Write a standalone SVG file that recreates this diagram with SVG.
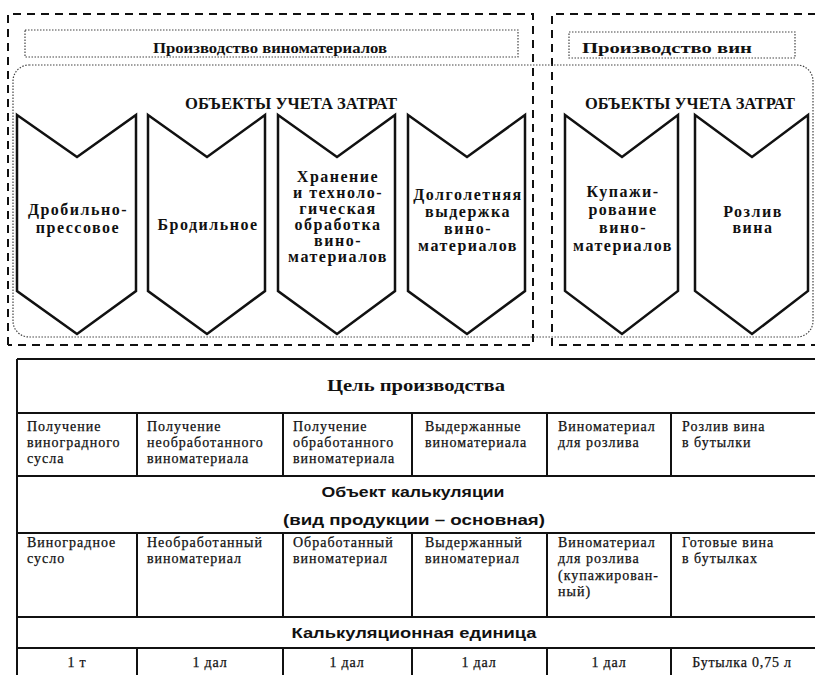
<svg xmlns="http://www.w3.org/2000/svg" width="815" height="675" viewBox="0 0 815 675">
<style>
.dash{fill:none;stroke:#111;stroke-width:2;stroke-dasharray:8,6}
.dot{fill:none;stroke:#444;stroke-width:1.2;stroke-dasharray:1.5,1.5}
.chev{fill:#fff;stroke:#111;stroke-width:2.5;stroke-linejoin:miter}
.ct{font-family:"Liberation Serif",serif;font-weight:bold;font-size:16px;text-anchor:middle;letter-spacing:1.5px;fill:#111}
.hd{font-family:"Liberation Serif",serif;font-weight:bold;font-size:15px;text-anchor:middle;fill:#111}
.obj{font-family:"Liberation Serif",serif;font-weight:bold;font-size:16px;text-anchor:middle;fill:#111}
.tl{stroke:#111;stroke-width:2;fill:none}
.cell{font-family:"Liberation Serif",serif;font-size:14px;letter-spacing:1px;fill:#111;stroke:#111;stroke-width:0.25}
.th{font-family:"Liberation Serif",serif;font-weight:bold;font-size:16px;text-anchor:middle;fill:#111}
.ths{font-family:"Liberation Sans",sans-serif;font-weight:bold;font-size:15px;text-anchor:middle;fill:#111}
.unit{font-family:"Liberation Serif",serif;font-size:14px;text-anchor:middle;letter-spacing:0.8px;fill:#111;stroke:#111;stroke-width:0.25}
</style>
<rect width="815" height="675" fill="#fff"/>

<g id="frames">
<path class="dash" d="M8,345 V14 H533 V345 H8"/>
<path class="dash" d="M830,14 H552 V345 H830"/>
<rect class="dot" x="13" y="65" width="800" height="272" rx="16"/>
</g>

<g id="hdr-left">
<rect class="dot" x="25" y="30" width="493" height="27"/>
<text class="hd" x="270" y="53" textLength="234" lengthAdjust="spacingAndGlyphs">Производство виноматериалов</text>
</g>
<g id="hdr-right">
<rect class="dot" x="569" y="32" width="226" height="26"/>
<text class="hd" x="667" y="53" textLength="170" lengthAdjust="spacingAndGlyphs">Производство вин</text>
</g>

<g id="objects-left"><text class="obj" x="291" y="109" textLength="212" lengthAdjust="spacingAndGlyphs">ОБЪЕКТЫ УЧЕТА ЗАТРАТ</text></g>
<g id="objects-right"><text class="obj" x="690" y="109" textLength="210" lengthAdjust="spacingAndGlyphs">ОБЪЕКТЫ УЧЕТА ЗАТРАТ</text></g>

<g id="ch1">
<path class="chev" d="M17,115 L77,157 L136,115 L136,291 L77,334 L17,291 Z"/>
<text class="ct" x="78" y="215">Дробильно-</text>
<text class="ct" x="78" y="233">прессовое</text>
</g>
<g id="ch2">
<path class="chev" d="M148,115 L207,157 L265,115 L265,291 L207,334 L148,291 Z"/>
<text class="ct" x="208" y="230">Бродильное</text>
</g>
<g id="ch3">
<path class="chev" d="M278,115 L337,157 L395,115 L395,291 L337,334 L278,291 Z"/>
<text class="ct" x="338" y="182">Хранение</text>
<text class="ct" x="338" y="198">и техноло-</text>
<text class="ct" x="338" y="214">гическая</text>
<text class="ct" x="338" y="230">обработка</text>
<text class="ct" x="338" y="246">вино-</text>
<text class="ct" x="338" y="262">материалов</text>
</g>
<g id="ch4">
<path class="chev" d="M408,115 L467,157 L525,115 L525,291 L467,334 L408,291 Z"/>
<text class="ct" x="468" y="200">Долголетняя</text>
<text class="ct" x="468" y="217">выдержка</text>
<text class="ct" x="468" y="234">вино-</text>
<text class="ct" x="468" y="251">материалов</text>
</g>
<g id="ch5">
<path class="chev" d="M565,115 L622,157 L678,115 L678,291 L622,334 L565,291 Z"/>
<text class="ct" x="623" y="197">Купажи-</text>
<text class="ct" x="623" y="215">рование</text>
<text class="ct" x="623" y="233">вино-</text>
<text class="ct" x="623" y="251">материалов</text>
</g>
<g id="ch6">
<path class="chev" d="M695,115 L752,157 L808,115 L808,291 L752,334 L695,291 Z"/>
<text class="ct" x="753" y="217">Розлив</text>
<text class="ct" x="753" y="233">вина</text>
</g>

<g id="table">
<g id="table-lines">
<path class="tl" d="M17,359 H820 M17,359 V680 M17,413 H820 M17,476 H820 M17,533 H820 M17,617 H820 M17,648 H820"/>
<path class="tl" d="M137,413 V476 M283,413 V476 M412,413 V476 M547,413 V476 M671,413 V476"/>
<path class="tl" d="M137,533 V617 M283,533 V617 M412,533 V617 M547,533 V617 M671,533 V617"/>
<path class="tl" d="M137,648 V680 M283,648 V680 M412,648 V680 M547,648 V680 M671,648 V680"/>
</g>
<text class="th" x="416" y="391" textLength="178" lengthAdjust="spacingAndGlyphs">Цель производства</text>

<text class="cell" x="27" y="431">Получение</text>
<text class="cell" x="27" y="447">виноградного</text>
<text class="cell" x="27" y="463">сусла</text>
<text class="cell" x="147" y="431">Получение</text>
<text class="cell" x="147" y="447">необработанного</text>
<text class="cell" x="147" y="463">виноматериала</text>
<text class="cell" x="293" y="431">Получение</text>
<text class="cell" x="293" y="447">обработанного</text>
<text class="cell" x="293" y="463">виноматериала</text>
<text class="cell" x="425" y="431">Выдержанные</text>
<text class="cell" x="425" y="447">виноматериала</text>
<text class="cell" x="558" y="431">Виноматериал</text>
<text class="cell" x="558" y="447">для розлива</text>
<text class="cell" x="682" y="431">Розлив вина</text>
<text class="cell" x="682" y="447">в  бутылки</text>

<text class="ths" x="413" y="497" textLength="183" lengthAdjust="spacingAndGlyphs">Объект калькуляции</text>
<text class="ths" x="414" y="525" textLength="262" lengthAdjust="spacingAndGlyphs">(вид продукции – основная)</text>

<text class="cell" x="27" y="547">Виноградное</text>
<text class="cell" x="27" y="563">сусло</text>
<text class="cell" x="147" y="547">Необработанный</text>
<text class="cell" x="147" y="563">виноматериал</text>
<text class="cell" x="293" y="547">Обработанный</text>
<text class="cell" x="293" y="563">виноматериал</text>
<text class="cell" x="425" y="547">Выдержанный</text>
<text class="cell" x="425" y="563">виноматериал</text>
<text class="cell" x="558" y="547">Виноматериал</text>
<text class="cell" x="558" y="563">для розлива</text>
<text class="cell" x="558" y="580">(купажирован-</text>
<text class="cell" x="558" y="596">ный)</text>
<text class="cell" x="682" y="547">Готовые вина</text>
<text class="cell" x="682" y="563">в  бутылках</text>

<text class="ths" x="414" y="638" textLength="245" lengthAdjust="spacingAndGlyphs">Калькуляционная единица</text>

<text class="unit" x="77" y="667">1 т</text>
<text class="unit" x="210" y="667">1 дал</text>
<text class="unit" x="347" y="667">1 дал</text>
<text class="unit" x="479" y="667">1 дал</text>
<text class="unit" x="609" y="667">1 дал</text>
<text class="unit" x="742" y="667">Бутылка 0,75 л</text>
</g>
</svg>
